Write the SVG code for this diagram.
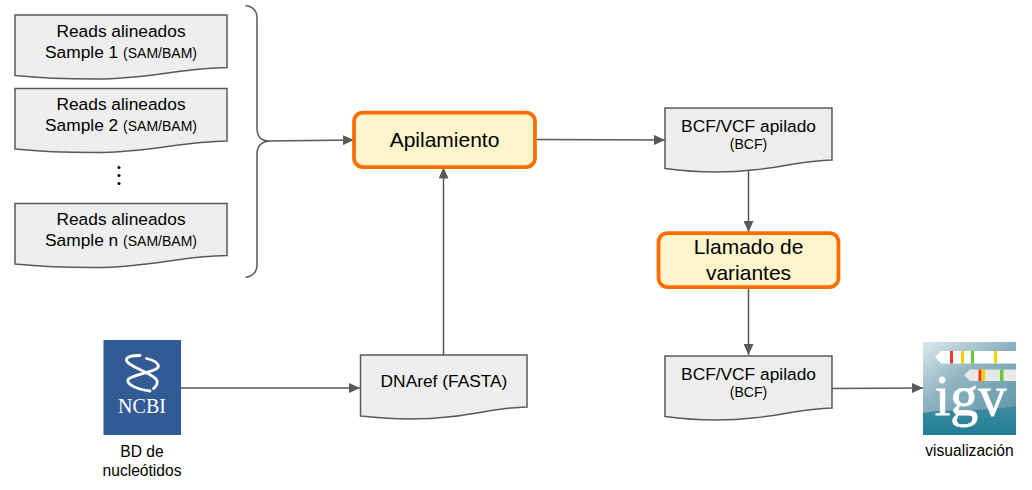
<svg xmlns="http://www.w3.org/2000/svg" width="1032" height="490" viewBox="0 0 1032 490">
<defs>
<marker id="arrow" markerUnits="userSpaceOnUse" markerWidth="12" markerHeight="10" refX="11" refY="5" orient="auto"><path d="M0 0L11 5L0 10Z" fill="#595959"/></marker>
<linearGradient id="igvTop" x1="0" y1="0" x2="0.7" y2="1"><stop offset="0" stop-color="#dce8ec"/><stop offset="0.45" stop-color="#8fb3c0"/><stop offset="1" stop-color="#5f95a8"/></linearGradient>
<linearGradient id="igvBot" x1="0" y1="0" x2="0" y2="1"><stop offset="0" stop-color="#3f8ba0"/><stop offset="1" stop-color="#1f7f96"/></linearGradient>
</defs>
<style>
text{font-family:"Liberation Sans",Arial,sans-serif;fill:#000;text-anchor:middle}
.doc{fill:#eee;stroke:#595959;stroke-width:1.5}
.proc{fill:#fff5cc;stroke:#ff6d01;stroke-width:3.750}
.c{fill:none;stroke:#595959;stroke-width:1.5}
.h{fill:none;stroke:#fff;stroke-width:2.800;stroke-linecap:round}
.t{font-size:17.330px}
.s{font-size:14px}
.p{font-size:21px}
.l{font-size:15.600px}
</style>
<rect width="1032" height="490" fill="#fff"/>
<g id="connectors">
<path class="c" d="M245.500 5.500C253 6.500 257 10 257 18V128C257 136 261 141 269 141C261 142 257 146 257 154V265C257 272 253 276 245.500 277.500"/>
<path class="c" d="M269 141L354 140" marker-end="url(#arrow)"/>
<path class="c" d="M535 139.500L665 140" marker-end="url(#arrow)"/>
<path class="c" d="M748.500 170V232" marker-end="url(#arrow)"/>
<path class="c" d="M748.500 288V355" marker-end="url(#arrow)"/>
<path class="c" d="M443.500 355V167.500" marker-end="url(#arrow)"/>
<path class="c" d="M181 388H360" marker-end="url(#arrow)"/>
<path class="c" d="M832 388.500L923 388" marker-end="url(#arrow)"/>
</g>
<g id="reads1"><path class="doc" d="M15 15H227V67.500C180 68 150 79 95 79C65 79 40 78 15 75.500Z"/><text class="t" x="121" y="36.500">Reads alineados</text><text x="121" y="57.500"><tspan class="t">Sample 1 </tspan><tspan class="s">(SAM/BAM)</tspan></text></g>
<g id="reads2"><path class="doc" d="M15 88.500H227V141C180 141.500 150 152.500 95 152.500C65 152.500 40 151.500 15 149Z"/><text class="t" x="121" y="109.500">Reads alineados</text><text x="121" y="130.500"><tspan class="t">Sample 2 </tspan><tspan class="s">(SAM/BAM)</tspan></text></g>
<g id="dots"><circle cx="119" cy="167.500" r="1.500"/><circle cx="119" cy="175.500" r="1.500"/><circle cx="119" cy="183.500" r="1.500"/></g>
<g id="readsn"><path class="doc" d="M15 203.500H227V255.500C180 256 150 267.500 95 267.500C65 267.500 40 266.500 15 264Z"/><text class="t" x="121" y="225">Reads alineados</text><text x="121" y="246"><tspan class="t">Sample n </tspan><tspan class="s">(SAM/BAM)</tspan></text></g>
<g id="apilamiento"><rect class="proc" x="354" y="112.500" width="181" height="54.500" rx="9"/><text class="p" x="444.500" y="147">Apilamiento</text></g>
<g id="bcf1"><path class="doc" d="M665 108H832V160C795 160.500 770 172 715 172C695 172 680 170.500 665 168.500Z"/><text class="t" x="748.500" y="131.500">BCF/VCF apilado</text><text class="s" x="748.500" y="149">(BCF)</text></g>
<g id="llamado"><rect class="proc" x="658.500" y="233" width="180" height="54" rx="9"/><text class="p" x="748.500" y="254">Llamado de</text><text class="p" x="748.500" y="280">variantes</text></g>
<g id="bcf2"><path class="doc" d="M665 356H832V408C795 408.500 770 420 715 420C695 420 680 418.500 665 416.500Z"/><text class="t" x="748.500" y="379.500">BCF/VCF apilado</text><text class="s" x="748.500" y="397">(BCF)</text></g>
<g id="dnaref"><path class="doc" d="M360.500 355H527V407C490 407.500 465 419 410 419C390 419 375 417.500 360.500 416Z"/><text class="t" x="444" y="386.500">DNAref (FASTA)</text></g>
<g id="ncbi"><rect x="103.500" y="340" width="77.500" height="95" fill="#325b96"/>
<path class="h" d="M140 355.500C132 355.500 126.500 356.500 126.500 360C126.500 366 150 372 156 379C158.500 382 157 386 153.500 388.500"/>
<path class="h" d="M146.500 358.500C153 360 158.500 363 158.300 366.500C158 372 132 374 128 379.500C125.500 384 137 389.500 150 391"/>
<text x="142" y="413" style="font-family:'Liberation Serif',serif;font-size:20px;fill:#fff">NCBI</text></g>
<text class="l" x="142" y="457">BD de</text>
<text class="l" x="142" y="476">nucleótidos</text>
<g id="igv"><rect x="923" y="342" width="93" height="93" fill="url(#igvTop)"/><path d="M923 413C950 408 985 412 1016 406V435H923Z" fill="url(#igvBot)"/>
<path d="M1016 351H941L935 357L941 363.500H1016Z" fill="#fff"/><path d="M1016 369.500H970L964 375L970 381H1016Z" fill="#e8e8e8"/>
<rect x="950" y="351" width="3" height="12.500" fill="#f33"/><rect x="961" y="351" width="3" height="12.500" fill="#fc0"/><rect x="971" y="351" width="3" height="12.500" fill="#6c3"/><rect x="994" y="351" width="3" height="12.500" fill="#fc0"/>
<rect x="978.500" y="369.500" width="3" height="11.500" fill="#f30"/><rect x="981.500" y="369.500" width="3.500" height="11.500" fill="#fc0"/><rect x="1000" y="369.500" width="3.500" height="11.500" fill="#6c3"/>
<text x="970.500" y="415" style="font-family:'Liberation Serif',serif;font-size:56px;fill:#fff;stroke:#fff;stroke-width:0.800">igv</text></g>
<text class="l" x="969.500" y="456">visualización</text>
</svg>
